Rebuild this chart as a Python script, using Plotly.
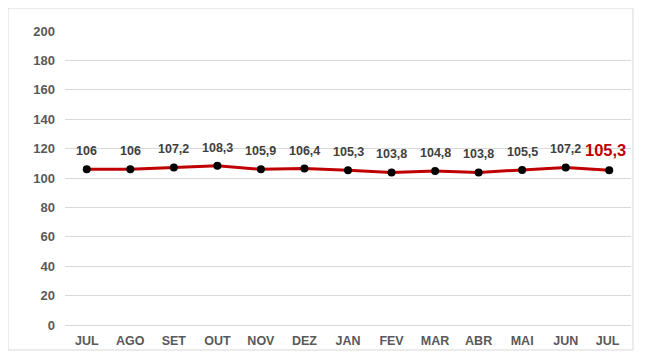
import plotly.graph_objects as go

months = ["JUL", "AGO", "SET", "OUT", "NOV", "DEZ", "JAN", "FEV", "MAR", "ABR", "MAI", "JUN", "JUL "]
values = [106, 106, 107.2, 108.3, 105.9, 106.4, 105.3, 103.8, 104.8, 103.8, 105.5, 107.2, 105.3]
labels = ["106", "106", "107,2", "108,3", "105,9", "106,4", "105,3", "103,8", "104,8", "103,8", "105,5", "107,2", "105,3"]
y_ticks = list(range(0, 201, 20))

FONT = "Liberation Sans, Arial, sans-serif"

fig = go.Figure()
fig.add_trace(go.Scatter(
    x=months, y=values, mode="lines+markers",
    line=dict(color="#C00000", width=3),
    marker=dict(color="black", size=8),
    cliponaxis=False, hoverinfo="skip",
))

n = len(values)
annotations = []
for i, (m, v, t) in enumerate(zip(months, values, labels)):
    last = i == n - 1
    annotations.append(dict(
        x=m, y=v, text=t, showarrow=False, xref="x", yref="y",
        yanchor="middle", xanchor="center",
        yshift=20 if last else 18, xshift=-4 if last else 0,
        font=dict(family=FONT, size=16.5 if last else 12.5,
                  color="#C00000" if last else "#404040", weight="bold"),
    ))

fig.update_layout(
    width=650, height=360,
    margin=dict(l=57, r=27, t=23, b=43),
    paper_bgcolor="white", plot_bgcolor="white",
    showlegend=False,
    font=dict(family=FONT, color="#595959"),
    annotations=annotations,
    xaxis=dict(
        type="category", range=[-0.5, n - 0.5],
        showgrid=False, showline=False, zeroline=False,
        tickfont=dict(family=FONT, size=12.5, color="#595959", weight="bold"),
        ticks="", ticklen=0, ticklabelstandoff=6, automargin=False,
    ),
    yaxis=dict(
        range=[0, 200], tickvals=y_ticks, showgrid=True, gridcolor="#D9D9D9",
        gridwidth=1, zeroline=True, zerolinecolor="#D9D9D9", zerolinewidth=1,
        showline=False, ticks="", ticklen=0, ticklabelstandoff=9,
        automargin=False,
        tickfont=dict(family=FONT, size=13, color="#595959", weight="bold"),
    ),
    shapes=[dict(
        type="rect", xref="paper", yref="paper",
        x0=-0.1007, x1=1.0035, y0=-0.085, y1=1.078,
        line=dict(color="#D9D9D9", width=1), fillcolor="rgba(0,0,0,0)",
        layer="below",
    )],
)

fig.write_html("out.html")
